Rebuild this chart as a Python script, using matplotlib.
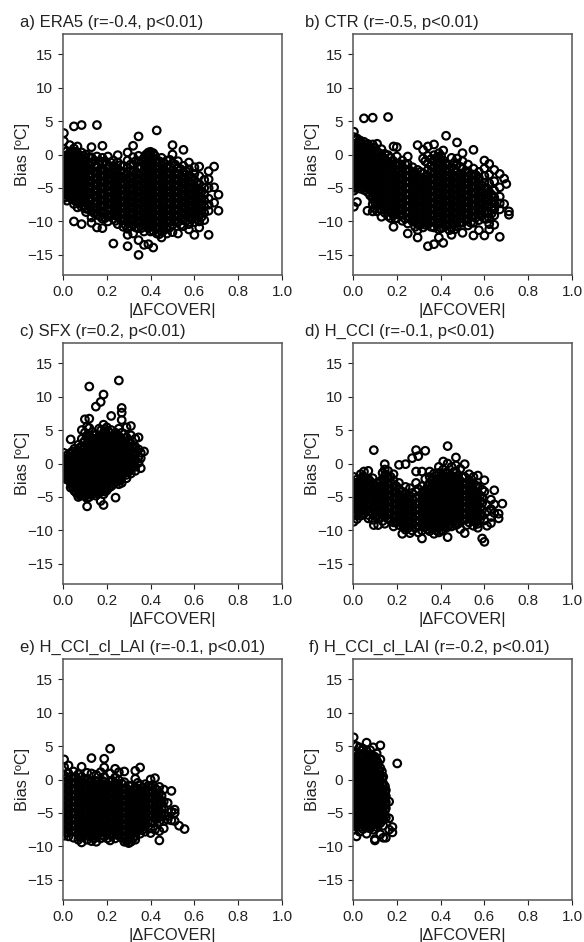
import numpy as np
import matplotlib
matplotlib.use("Agg")
import matplotlib.pyplot as plt

plt.rcParams['font.family'] = ['Liberation Sans', 'DejaVu Sans']

titles = ['a) ERA5 (r=-0.4, p<0.01)', 'b) CTR (r=-0.5, p<0.01)', 'c) SFX (r=0.2, p<0.01)',
          'd) H_CCI (r=-0.1, p<0.01)', 'e) H_CCI_cl_LAI (r=-0.1, p<0.01)', 'f) H_CCI_cl_LAI (r=-0.2, p<0.01)']
x_ticks = [0.0, 0.2, 0.4, 0.6, 0.8, 1.0]
y_ticks = [-15, -10, -5, 0, 5, 10, 15]

# values, column by column: (|dFCOVER|, [bias, ...])
era5_cols = [
    (0.004, [3.2, 2.0, 0.8, -0.2, -1.1, -2.0, -2.9, -3.8, -4.7, -5.6, -6.5]),
    (0.018, [0.5, -0.5, -1.5, -2.4, -3.4, -4.3, -5.2, -6.1, -6.9]),
    (0.031, [1.4, 0.3, -0.7, -1.7, -2.6, -3.5, -4.4, -5.3, -6.2]),
    (0.05, [4.2, 0.9, -0.1, -1.1, -2.0, -2.9, -3.9, -4.8, -5.7, -6.6, -7.4, -10.0]),
    (0.066, [1.2, 0.2, -0.8, -1.7, -2.5, -3.4, -4.3, -5.2, -6.1, -7.0, -7.9]),
    (0.085, [4.4, 0.3, -0.6, -1.5, -2.4, -3.3, -4.2, -5.1, -6.0, -6.9, -7.8, -10.4]),
    (0.105, [0.0, -0.9, -1.8, -2.7, -3.6, -4.5, -5.4, -6.3, -7.2, -8.1, -8.6]),
    (0.13, [1.1, -0.4, -1.3, -2.2, -3.1, -4.0, -4.9, -5.8, -6.7, -7.6, -8.4, -9.4, -10.2]),
    (0.155, [4.4, -0.3, -1.8, -2.7, -3.6, -4.5, -5.4, -6.3, -7.2, -8.1, -9.0, -10.9]),
    (0.18, [1.3, -0.5, -1.4, -2.3, -3.2, -4.1, -5.0, -5.9, -6.8, -7.7, -8.6, -9.6, -11.0]),
    (0.205, [-0.3, -1.9, -2.8, -3.7, -4.6, -5.5, -6.4, -7.3, -8.2, -9.1, -10.0]),
    (0.23, [-0.9, -1.7, -2.5, -3.3, -4.2, -5.1, -6.0, -6.9, -7.8, -8.7, -9.6, -13.3]),
    (0.25, [-0.1, -1.2, -2.1, -3.0, -3.9, -4.8, -5.7, -6.6, -7.5, -8.4, -9.3, -10.4]),
    (0.275, [-1.7, -2.6, -3.5, -4.4, -5.3, -6.2, -7.1, -8.0, -8.9, -9.8, -10.8]),
    (0.295, [0.3, -0.9, -2.0, -3.0, -3.9, -4.8, -5.7, -6.6, -7.5, -8.4, -9.3, -10.2, -11.1, -12.0, -13.7]),
    (0.32, [1.3, -0.4, -1.5, -2.4, -3.3, -4.2, -5.1, -6.0, -6.9, -7.8, -8.7, -9.6, -10.5, -11.8]),
    (0.345, [2.7, -0.2, -1.0, -2.0, -2.9, -3.8, -4.7, -5.6, -6.5, -7.4, -8.3, -9.2, -10.1, -11.0, -12.8, -15.0]),
    (0.37, [-0.5, -1.5, -2.4, -3.3, -4.2, -5.1, -6.0, -6.9, -7.8, -8.7, -9.6, -10.5, -11.5, -13.5]),
    (0.39, [0.3, -0.1, -1.0, -2.0, -2.9, -3.8, -4.7, -5.6, -6.5, -7.4, -8.3, -9.2, -10.1, -11.0, -13.4]),
    (0.412, [0.2, -0.6, -1.5, -2.4, -3.3, -4.2, -5.1, -6.0, -6.9, -7.8, -8.7, -9.6, -10.5, -11.4, -13.9]),
    (0.428, [3.6, -1.0, -2.0, -2.9, -3.8, -4.7, -5.6, -6.5, -7.4, -8.3, -9.2, -10.1, -11.0, -11.8]),
    (0.45, [-0.5, -1.5, -2.4, -3.3, -4.2, -5.1, -6.0, -6.9, -7.8, -8.7, -9.6, -10.5, -11.5, -12.4]),
    (0.475, [-0.9, -1.9, -2.8, -3.7, -4.6, -5.5, -6.4, -7.3, -8.2, -9.1, -10.0, -10.9, -11.8]),
    (0.5, [1.4, 0.0, -1.3, -2.4, -3.3, -4.2, -5.1, -6.0, -6.9, -7.8, -8.7, -9.6, -10.5, -11.6]),
    (0.525, [-1.0, -2.0, -2.9, -3.8, -4.7, -5.6, -6.5, -7.4, -8.3, -9.2, -10.1, -11.8]),
    (0.55, [0.7, -1.7, -2.6, -3.5, -4.4, -5.3, -6.2, -7.1, -8.0, -8.9, -9.8, -10.7]),
    (0.575, [-1.2, -2.2, -3.1, -4.0, -4.9, -5.8, -6.7, -7.6, -8.5, -9.4, -10.4, -11.2]),
    (0.6, [-1.9, -2.9, -3.8, -4.7, -5.6, -6.5, -7.4, -8.3, -9.2, -10.1, -12.0]),
    (0.622, [-1.8, -3.2, -4.4, -5.4, -6.4, -7.3, -8.2, -9.1, -10.0, -10.9]),
    (0.645, [-3.8, -5.0, -6.0, -6.9, -7.8, -8.7, -9.8]),
    (0.665, [-2.5, -3.7, -5.0, -6.6, -7.5, -8.4, -12.0]),
    (0.69, [-1.8, -4.9, -7.2]),
    (0.71, [-6.0, -8.4]),
    # dense middle of the cloud
    (0.011, [-0.7, -1.6, -2.4, -3.0, -3.9, -4.8, -5.7, -6.4]),
    (0.025, [-0.1, -1.0, -2.0, -2.9, -3.8, -4.7, -5.6]),
    (0.041, [0.4, -0.6, -1.4, -2.3, -3.2, -4.1, -5.0, -5.9, -6.7]),
    (0.058, [0.4, -0.5, -1.5, -2.4, -3.4, -4.3, -5.3, -6.2, -7.0]),
    (0.076, [-0.2, -1.2, -2.1, -3.0, -3.8, -4.7, -5.6, -6.5, -7.3]),
    (0.095, [-0.2, -1.1, -2.0, -2.9, -3.8, -4.7, -5.8, -6.6, -7.6]),
    (0.118, [-0.4, -1.4, -2.3, -3.2, -4.0, -5.0, -5.9, -6.8, -7.7, -8.2]),
    (0.143, [-0.9, -1.8, -2.6, -3.6, -4.5, -5.4, -6.2, -7.2, -8.0, -8.8]),
    (0.168, [-1.0, -2.3, -3.1, -4.0, -4.9, -5.9, -6.7, -7.6, -8.5, -9.2]),
    (0.192, [-1.0, -2.4, -3.2, -4.1, -5.0, -6.0, -6.9, -7.7, -8.7, -9.5]),
    (0.218, [-1.2, -3.0, -3.8, -4.7, -5.6, -6.5, -7.4, -8.3, -9.2]),
    (0.24, [-2.2, -3.6, -4.5, -5.4, -6.3, -7.2, -8.1, -9.0, -9.9]),
    (0.262, [-1.6, -2.5, -3.4, -4.3, -5.2, -6.1, -7.0, -7.9, -8.8, -9.7]),
    (0.285, [-3.1, -4.4, -5.2, -6.1, -7.0, -7.9, -8.8, -9.7, -10.5]),
    (0.308, [-1.5, -2.5, -3.4, -4.4, -5.3, -6.2, -7.0, -8.0, -8.9, -9.8, -10.7]),
    (0.332, [-1.0, -2.8, -3.8, -4.6, -5.6, -6.4, -7.3, -8.2, -9.2, -10.0, -10.9]),
    (0.358, [-1.0, -1.9, -2.8, -3.7, -4.6, -5.5, -6.4, -7.3, -8.2, -9.1, -10.0, -11.0]),
    (0.38, [0.0, -0.6, -1.5, -2.4, -3.4, -4.3, -5.2, -6.1, -7.0, -7.9, -8.8, -9.7, -10.6]),
    (0.4, [0.4, 0.0, -0.5, -1.5, -2.5, -3.3, -4.2, -5.2, -6.0, -7.0, -7.9, -8.8, -9.7, -10.6, -11.5]),
    (0.42, [-0.2, -1.0, -1.9, -2.8, -3.7, -4.6, -5.6, -6.4, -7.3, -8.2, -9.1, -10.0, -10.9]),
    (0.44, [-1.0, -1.9, -2.8, -3.7, -4.6, -5.5, -6.4, -7.4, -8.2, -9.1, -10.0, -10.9, -11.9]),
    (0.462, [-1.3, -2.2, -3.2, -4.1, -5.0, -5.9, -6.8, -7.7, -8.6, -9.5, -10.4, -11.3]),
    (0.488, [-0.8, -1.8, -2.8, -3.7, -4.6, -5.6, -6.4, -7.4, -8.2, -9.1, -10.0, -10.9]),
    (0.512, [-1.5, -2.8, -3.7, -4.6, -5.5, -6.4, -7.3, -8.2, -9.1, -10.0]),
    (0.538, [-2.2, -3.3, -4.2, -5.1, -6.0, -6.9, -7.8, -8.7, -9.6, -10.5]),
    (0.562, [-2.5, -3.6, -4.5, -5.4, -6.3, -7.2, -8.1, -9.0, -9.9]),
    (0.588, [-3.4, -4.3, -5.2, -6.1, -7.0, -7.9, -8.8, -9.7]),
    (0.61, [-4.2, -5.1, -6.0, -6.9, -7.8, -8.7, -9.6]),
    (0.633, [-5.5, -6.5, -7.4, -8.3, -9.3]),
]
ctr_cols = [
    (0.004, [3.4, 2.6, 1.6, 0.7, -0.2, -1.1, -2.0, -2.9, -3.8, -4.7, -5.4, -7.8]),
    (0.018, [2.4, 1.5, 0.6, -0.3, -1.2, -2.1, -3.0, -3.9, -4.8, -7.1]),
    (0.032, [2.1, 1.2, 0.3, -0.6, -1.5, -2.4, -3.3, -4.2, -5.1]),
    (0.05, [5.4, 1.9, 1.0, 0.1, -0.8, -1.7, -2.6, -3.5, -4.4, -5.3]),
    (0.066, [1.6, 0.7, -0.2, -1.1, -2.0, -2.9, -3.8, -4.7, -5.6, -8.4]),
    (0.09, [5.5, 1.5, 0.6, -0.3, -1.2, -2.1, -3.0, -3.9, -4.8, -5.7, -6.6, -7.4, -8.5]),
    (0.11, [1.6, 0.4, -0.5, -1.4, -2.3, -3.2, -4.1, -5.0, -5.9, -6.8, -7.7, -8.5]),
    (0.13, [0.8, -0.1, -1.0, -1.9, -2.8, -3.7, -4.6, -5.5, -6.4, -7.3, -8.2, -9.3]),
    (0.16, [5.6, -0.1, -1.1, -2.0, -2.9, -3.8, -4.7, -5.6, -6.5, -7.4, -8.3, -9.2]),
    (0.185, [1.2, -1.0, -1.9, -2.8, -3.7, -4.6, -5.5, -6.4, -7.3, -8.2, -9.1, -10.8]),
    (0.2, [1.1, -0.3, -1.4, -2.3, -3.2, -4.1, -5.0, -5.9, -6.8, -7.7, -8.6, -9.5]),
    (0.225, [-0.9, -1.8, -2.7, -3.6, -4.5, -5.4, -6.3, -7.2, -8.1, -9.0, -9.9]),
    (0.25, [-0.3, -1.4, -2.3, -3.2, -4.1, -5.0, -5.9, -6.8, -7.7, -8.6, -9.5, -10.3, -11.8]),
    (0.272, [-1.9, -2.8, -3.7, -4.6, -5.5, -6.4, -7.3, -8.2, -9.1, -10.0]),
    (0.295, [1.4, -2.3, -3.2, -4.1, -5.0, -5.9, -6.8, -7.7, -8.6, -9.5, -10.4, -11.3, -12.4]),
    (0.32, [0.7, -0.6, -2.8, -3.7, -4.6, -5.5, -6.4, -7.3, -8.2, -9.1, -10.0, -10.9]),
    (0.342, [1.2, -0.2, -1.3, -2.3, -3.2, -4.1, -5.0, -5.9, -6.8, -7.7, -8.6, -9.5, -10.4, -13.7]),
    (0.37, [1.5, -0.1, -1.0, -1.9, -2.8, -3.7, -4.6, -5.5, -6.4, -7.3, -8.2, -9.1, -10.0, -10.9, -13.4]),
    (0.392, [0.2, -0.5, -1.4, -2.3, -3.2, -4.1, -5.0, -5.9, -6.8, -7.7, -8.6, -9.5, -10.4, -11.2, -12.4]),
    (0.412, [0.6, -0.9, -1.9, -2.8, -3.7, -4.6, -5.5, -6.4, -7.3, -8.2, -9.1, -10.0, -10.9, -13.2]),
    (0.425, [2.8, -1.5, -2.5, -3.4, -4.3, -5.2, -6.1, -7.0, -7.9, -8.8, -9.7, -10.6]),
    (0.45, [-0.5, -1.9, -2.9, -3.8, -4.7, -5.6, -6.5, -7.4, -8.3, -9.2, -10.1, -11.0, -12.0]),
    (0.475, [1.8, -0.6, -1.5, -2.6, -3.5, -4.4, -5.3, -6.2, -7.1, -8.0, -8.9, -9.8, -10.7]),
    (0.5, [0.2, -1.0, -2.1, -3.0, -3.9, -4.8, -5.7, -6.6, -7.5, -8.4, -9.3, -10.2, -11.7]),
    (0.525, [-1.5, -2.5, -3.4, -4.3, -5.2, -6.1, -7.0, -7.9, -8.8, -9.7, -10.6]),
    (0.55, [0.7, -2.1, -3.0, -3.9, -4.8, -5.7, -6.6, -7.5, -8.4, -9.3, -10.2, -12.1]),
    (0.575, [-2.6, -3.5, -4.4, -5.3, -6.2, -7.1, -8.0, -8.9, -9.8, -11.3]),
    (0.6, [-0.9, -2.1, -3.2, -4.2, -5.1, -6.0, -6.9, -7.8, -8.7, -9.6, -12.1]),
    (0.622, [-1.4, -3.0, -4.3, -5.6, -6.6, -7.5, -8.6, -9.5, -10.4, -11.2]),
    (0.645, [-2.3, -4.0, -5.4, -6.4, -7.3, -8.2, -9.1, -10.5]),
    (0.67, [-2.9, -4.9, -6.3, -7.3, -8.2, -12.3]),
    (0.69, [-3.6, -7.4]),
    (0.7, [-4.4]),
    (0.712, [-8.5, -9.0]),
    # dense middle of the cloud
    (0.011, [2.1, 1.1, 0.2, -0.7, -1.6, -2.5, -3.4, -4.3, -5.0]),
    (0.025, [1.9, 1.0, 0.1, -0.8, -1.7, -2.6, -3.5, -4.4]),
    (0.041, [1.6, 0.7, -0.2, -1.1, -2.0, -2.9, -3.8, -4.7]),
    (0.058, [1.4, 0.5, -0.4, -1.3, -2.2, -3.1, -4.0, -4.9]),
    (0.078, [1.1, 0.2, -0.7, -1.6, -2.5, -3.4, -4.3, -5.2, -6.1]),
    (0.1, [1.0, 0.1, -0.8, -1.7, -2.6, -3.5, -4.4, -5.3, -6.2, -7.1, -8.0]),
    (0.12, [0.2, -0.9, -1.8, -2.7, -3.6, -4.5, -5.4, -6.3, -7.2, -8.1]),
    (0.145, [0.1, -0.6, -1.5, -2.4, -3.3, -4.2, -5.1, -6.0, -6.9, -7.8, -8.7]),
    (0.172, [-0.5, -1.4, -2.3, -3.2, -4.1, -5.0, -5.9, -6.8, -7.7, -8.6, -9.5]),
    (0.193, [-1.5, -2.4, -3.3, -4.2, -5.1, -6.0, -6.9, -7.8, -8.7, -9.6]),
    (0.212, [-1.4, -2.7, -3.6, -4.5, -5.4, -6.3, -7.2, -8.1, -9.0]),
    (0.238, [-1.4, -2.3, -3.2, -4.1, -5.0, -5.9, -6.8, -7.7, -8.6, -9.6]),
    (0.26, [-2.4, -3.3, -4.2, -5.1, -6.0, -6.9, -7.8, -8.7, -9.6]),
    (0.284, [-2.8, -3.7, -4.6, -5.5, -6.4, -7.3, -8.2, -9.1, -10.0, -10.8]),
    (0.308, [-2.6, -4.1, -5.0, -5.9, -6.8, -7.7, -8.6, -9.5, -10.4]),
    (0.33, [-1.0, -3.3, -4.2, -5.1, -6.0, -6.9, -7.8, -8.7, -9.6, -10.5]),
    (0.356, [-0.7, -1.7, -2.7, -3.6, -4.5, -5.4, -6.3, -7.2, -8.1, -9.0, -9.9, -10.8]),
    (0.381, [-0.5, -1.4, -2.3, -3.2, -4.1, -5.0, -5.9, -6.8, -7.7, -8.6, -9.5, -10.4]),
    (0.402, [-0.2, -1.1, -2.0, -2.9, -3.8, -4.7, -5.6, -6.5, -7.4, -8.3, -9.2, -10.1, -11.0]),
    (0.42, [-1.4, -2.3, -3.3, -4.2, -5.1, -6.0, -6.9, -7.8, -8.7, -9.6, -10.5]),
    (0.44, [-2.3, -3.3, -4.2, -5.1, -6.0, -6.9, -7.8, -8.7, -9.6, -10.5, -11.3]),
    (0.463, [-1.2, -2.1, -3.2, -4.1, -5.0, -5.9, -6.8, -7.7, -8.6, -9.5, -10.4, -11.2]),
    (0.488, [-1.8, -3.0, -3.9, -4.8, -5.7, -6.6, -7.5, -8.4, -9.3, -10.2]),
    (0.512, [-2.6, -3.5, -4.4, -5.3, -6.2, -7.1, -8.0, -8.9, -9.8]),
    (0.538, [-3.0, -3.9, -4.8, -5.7, -6.6, -7.5, -8.4, -9.3, -10.2]),
    (0.562, [-3.1, -4.0, -4.9, -5.8, -6.7, -7.6, -8.5, -9.4]),
    (0.588, [-4.6, -5.5, -6.4, -7.3, -8.2, -9.1]),
    (0.61, [-5.0, -6.0, -6.9, -7.8, -8.7, -9.6]),
    (0.633, [-6.0, -7.0, -7.9, -8.8]),
]
sfx_cols = [
    (0.003, [1.6, 0.6, -0.3, -1.2, -2.1]),
    (0.018, [1.2, 0.3, -0.6, -1.5, -2.4]),
    (0.035, [3.6, 1.6, 0.7, -0.2, -1.1, -2.0, -2.9, -3.6]),
    (0.052, [2.2, 1.3, 0.4, -0.5, -1.4, -2.3, -3.2, -4.1]),
    (0.07, [2.8, 1.9, 1.0, 0.1, -0.8, -1.7, -2.6, -3.5, -4.4, -5.0]),
    (0.086, [5.0, 3.7, 2.5, 1.6, 0.7, -0.2, -1.1, -2.0, -2.9, -3.8, -4.7]),
    (0.1, [6.6, 4.6, 3.4, 2.4, 1.4, 0.5, -0.4, -1.3, -2.2, -3.1, -4.0, -4.9]),
    (0.12, [11.5, 6.7, 5.3, 4.2, 3.2, 2.2, 1.2, 0.3, -0.6, -1.5, -2.4, -3.3, -4.2, -5.0]),
    (0.11, [-6.4, 5.5, -5.2]),
    (0.135, [4.7, 3.7, 2.7, 1.8, 0.9, 0.0, -0.9, -1.8, -2.7, -3.6, -4.5]),
    (0.15, [8.5, 4.3, 3.3, 2.3, 1.4, 0.5, -0.4, -1.3, -2.2, -3.1, -4.0, -4.8]),
    (0.165, [5.2, 4.0, 3.0, 2.0, 1.1, 0.2, -0.7, -1.6, -2.5, -3.4, -4.3]),
    (0.172, [9.2, -5.6]),
    (0.185, [10.3, 5.8, 4.6, 3.6, 2.6, 1.7, 0.8, -0.1, -1.0, -1.9, -2.8, -3.7, -4.6, -6.2]),
    (0.2, [5.4, 4.3, 3.3, 2.3, 1.4, 0.5, -0.4, -1.3, -2.2, -3.1, -4.0]),
    (0.22, [7.1, 5.0, 4.0, 3.0, 2.0, 1.1, 0.2, -0.7, -1.6, -2.5, -3.4]),
    (0.24, [4.6, 3.6, 2.6, 1.7, 0.8, -0.1, -1.0, -1.9, -2.8, -5.1]),
    (0.255, [12.4, 5.2, 4.1, 3.1, 2.2, 1.3, 0.4, -0.5, -1.4, -2.3, -3.1]),
    (0.268, [8.3, 7.6, 6.5, 4.6, 3.5, 2.5, 1.6, 0.7, -0.2, -1.1, -2.0, -2.9]),
    (0.29, [5.4, 3.9, 2.9, 1.9, 1.0, 0.1, -0.8, -1.7, -2.2]),
    (0.31, [5.6, 4.2, 3.0, 2.0, 1.1, 0.2, -0.7, -1.5]),
    (0.33, [3.7, 2.5, 1.5, 0.5, -0.5, -1.1]),
    (0.345, [3.9, 2.1, 1.0, 0.1]),
    (0.355, [1.6, 0.8, -0.7]),
    (0.37, [1.8]),
    # dense middle of the cloud
    (0.01, [0.8, -0.1, -1.0, -1.8]),
    (0.027, [0.8, -0.1, -1.0, -1.9]),
    (0.044, [1.8, 0.9, 0.0, -0.9, -1.8, -2.7, -3.5]),
    (0.061, [1.7, 0.8, -0.1, -1.0, -1.9, -2.8, -3.7, -4.4]),
    (0.078, [2.4, 1.5, 0.6, -0.3, -1.2, -2.1, -3.0, -3.9, -4.8]),
    (0.093, [3.1, 2.1, 1.1, 0.2, -0.7, -1.6, -2.5, -3.4, -4.3]),
    (0.11, [3.9, 2.9, 1.9, 0.9, 0.0, -0.9, -1.8, -2.7, -3.6, -4.5]),
    (0.127, [3.7, 2.7, 1.7, 0.8, -0.1, -1.0, -1.9, -2.8, -3.7, -4.6]),
    (0.143, [4.2, 3.2, 2.2, 1.3, 0.4, -0.5, -1.4, -2.3, -3.2, -4.1]),
    (0.158, [3.8, 2.8, 1.8, 0.9, 0.0, -0.9, -1.8, -2.7, -3.6, -4.5]),
    (0.175, [5.0, 4.1, 3.1, 2.1, 1.2, 0.3, -0.6, -1.5, -2.4, -3.3, -4.2]),
    (0.192, [5.1, 4.1, 3.1, 2.1, 1.2, 0.3, -0.6, -1.5, -2.4, -3.3, -4.2]),
    (0.21, [4.7, 3.7, 2.7, 1.8, 0.9, 0.0, -0.9, -1.8, -2.7, -3.6]),
    (0.23, [4.2, 3.2, 2.2, 1.3, 0.4, -0.5, -1.4, -2.3, -3.1]),
    (0.247, [4.3, 3.3, 2.3, 1.4, 0.5, -0.4, -1.3, -2.2]),
    (0.262, [3.7, 2.7, 1.8, 0.9, 0.0, -0.9, -1.8, -2.5]),
    (0.28, [4.4, 3.3, 2.3, 1.3, 0.4, -0.5, -1.4]),
    (0.3, [3.4, 2.4, 1.5, 0.6, -0.3, -1.2]),
    (0.32, [2.4, 1.5, 0.6, -0.3]),
]
hcci_cols = [
    (0.003, [-2.0, -2.9, -3.8, -4.7, -5.6, -6.5, -7.4, -8.7]),
    (0.018, [-2.4, -3.3, -4.2, -5.1, -6.0, -6.9, -7.8, -8.3]),
    (0.035, [-1.6, -2.5, -3.4, -4.3, -5.2, -6.1, -7.0, -7.8]),
    (0.05, [-1.2, -2.1, -3.0, -3.9, -4.8, -5.7, -6.6, -7.5]),
    (0.07, [-1.1, -2.3, -3.2, -4.1, -5.0, -5.9, -6.8, -7.7, -8.2]),
    (0.09, [-2.2, -3.0, -3.9, -4.8, -5.7, -6.6, -7.5, -8.4]),
    (0.095, [2.0, -9.2]),
    (0.115, [-2.8, -3.7, -4.6, -5.5, -6.4, -7.3, -8.2, -9.2]),
    (0.135, [-1.4, -2.3, -3.2, -4.1, -5.0, -5.9, -6.8, -7.7, -8.6]),
    (0.145, [-0.1, -0.9, -9.0]),
    (0.16, [-1.1, -2.0, -2.9, -3.8, -4.7, -5.6, -6.5, -7.4, -8.3]),
    (0.185, [-1.6, -2.5, -3.4, -4.3, -5.2, -6.1, -7.0, -7.9, -8.8, -9.4]),
    (0.21, [-0.2, -2.9, -3.8, -4.7, -5.6, -6.5, -7.4, -8.3, -9.2]),
    (0.225, [-4.2, -5.2, -6.1, -7.0, -7.9, -8.8, -10.5]),
    (0.24, [-0.1, -3.5, -4.6, -5.5, -6.4, -7.3, -8.2, -9.1, -9.9]),
    (0.26, [-3.7, -5.0, -5.9, -6.8, -7.7, -8.6, -9.5, -10.4]),
    (0.27, [0.8, -4.4, -10.0]),
    (0.288, [2.0, -1.2, -2.9, -4.2, -5.1, -6.0, -6.9, -7.8, -8.7, -9.6]),
    (0.298, [1.1, -3.8, -10.3]),
    (0.315, [-1.2, -3.4, -4.6, -5.5, -6.4, -7.3, -8.2, -9.1, -10.0, -11.2]),
    (0.33, [1.9, -2.3, -4.1, -5.0, -5.9, -6.8, -7.7, -8.6, -9.5]),
    (0.35, [-1.2, -2.0, -2.9, -3.8, -4.7, -5.6, -6.5, -7.4, -8.3, -9.2, -10.1]),
    (0.37, [-1.5, -2.4, -3.3, -4.2, -5.1, -6.0, -6.9, -7.8, -8.7, -9.6, -10.5]),
    (0.392, [-0.5, -1.4, -2.3, -3.2, -4.1, -5.0, -5.9, -6.8, -7.7, -8.6, -9.5, -10.3]),
    (0.412, [0.3, -0.9, -1.9, -2.8, -3.7, -4.6, -5.5, -6.4, -7.3, -8.2, -9.1, -10.0]),
    (0.432, [2.6, 0.0, -1.4, -2.3, -3.2, -4.1, -5.0, -5.9, -6.8, -7.7, -8.6, -9.5, -11.0]),
    (0.45, [-0.5, -1.8, -2.7, -3.6, -4.5, -5.4, -6.3, -7.2, -8.1, -9.4]),
    (0.47, [0.9, -0.3, -1.3, -2.2, -3.1, -4.0, -4.9, -5.8, -6.7, -7.6, -8.6, -9.2]),
    (0.49, [-0.8, -2.6, -3.5, -4.4, -5.3, -6.2, -7.1, -8.0, -9.8]),
    (0.51, [-0.1, -2.0, -3.0, -3.9, -4.8, -5.7, -6.6, -7.5, -8.4, -10.4]),
    (0.53, [-1.6, -2.5, -3.4, -4.3, -5.2, -6.1, -7.0, -7.9, -8.8]),
    (0.55, [-2.0, -3.0, -3.9, -4.8, -5.7, -6.6, -7.5, -8.4, -9.3]),
    (0.57, [-1.8, -3.4, -4.4, -5.3, -6.2, -7.1, -8.0, -9.0, -9.6]),
    (0.59, [-3.9, -5.0, -5.9, -6.9, -7.8, -11.2]),
    (0.6, [-2.5, -4.2, -8.5, -11.7]),
    (0.612, [-6.2, -7.2, -9.3]),
    (0.63, [-5.4, -6.8, -8.0, -8.9]),
    (0.645, [-4.0, -6.1, -7.4]),
    (0.665, [-7.5, -8.2]),
    (0.682, [-6.0]),
    # dense middle of the cloud
    (0.011, [-2.9, -3.8, -4.7, -5.6, -6.5, -7.4]),
    (0.027, [-2.9, -3.8, -4.7, -5.6, -6.5, -7.4]),
    (0.043, [-2.0, -2.9, -3.8, -4.7, -5.6, -6.5]),
    (0.06, [-2.6, -3.5, -4.4, -5.3, -6.2, -7.1]),
    (0.08, [-2.7, -3.6, -4.5, -5.4, -6.3, -7.2]),
    (0.103, [-3.3, -4.2, -5.1, -6.0, -6.9, -7.8]),
    (0.125, [-2.7, -3.6, -4.5, -5.4, -6.3, -7.2, -8.1]),
    (0.148, [-1.6, -2.5, -3.4, -4.3, -5.2, -6.1, -7.0, -7.9]),
    (0.172, [-2.0, -2.9, -3.8, -4.7, -5.6, -6.5, -7.4, -8.3]),
    (0.198, [-3.4, -4.3, -5.2, -6.1, -7.0, -7.9, -8.8]),
    (0.232, [-5.0, -5.9, -6.8, -7.7, -8.6, -9.5]),
    (0.25, [-5.1, -6.0, -6.9, -7.8, -8.7, -9.6]),
    (0.275, [-5.5, -6.4, -7.3, -8.2, -9.1]),
    (0.302, [-4.9, -5.8, -6.7, -7.6, -8.5, -9.4]),
    (0.322, [-4.1, -5.0, -5.9, -6.8, -7.7, -8.6, -9.5]),
    (0.341, [-3.4, -4.4, -5.3, -6.2, -7.1, -8.0, -8.9, -9.8]),
    (0.36, [-2.5, -3.4, -4.3, -5.2, -6.1, -7.0, -7.9, -8.8, -9.7]),
    (0.381, [-1.9, -2.8, -3.7, -4.6, -5.5, -6.4, -7.3, -8.2, -9.1, -10.0]),
    (0.402, [-1.9, -2.8, -3.7, -4.6, -5.5, -6.4, -7.3, -8.2, -9.1, -10.0]),
    (0.422, [-1.4, -2.3, -3.2, -4.1, -5.0, -5.9, -6.8, -7.7, -8.6, -9.5]),
    (0.442, [-1.9, -2.8, -3.7, -4.6, -5.5, -6.4, -7.3, -8.2, -9.1]),
    (0.46, [-1.3, -2.2, -3.1, -4.0, -4.9, -5.8, -6.7, -7.6, -8.5]),
    (0.48, [-1.8, -2.7, -3.6, -4.5, -5.4, -6.3, -7.2, -8.1, -9.0]),
    (0.5, [-2.1, -3.0, -3.9, -4.8, -5.7, -6.6, -7.5, -8.4]),
    (0.52, [-2.9, -3.8, -4.7, -5.6, -6.5, -7.4, -8.3, -9.2]),
    (0.54, [-2.9, -3.8, -4.7, -5.6, -6.5, -7.4, -8.3]),
    (0.56, [-3.4, -4.3, -5.2, -6.1, -7.0, -7.9, -8.8]),
    (0.58, [-4.8, -5.7, -6.6, -7.5, -8.4]),
]
hcci_lai_e_cols = [
    (0.005, [3.0, 1.9, 0.6, -0.3, -1.2, -2.1, -3.0, -3.9, -4.8, -5.7, -6.6, -7.5, -8.4]),
    (0.025, [2.1, 0.9, 0.0, -0.9, -1.8, -2.7, -3.6, -4.5, -5.4, -6.3, -7.2, -8.5]),
    (0.048, [1.2, 0.3, -0.6, -1.5, -2.4, -3.3, -4.2, -5.1, -6.0, -6.9, -7.8, -8.7]),
    (0.07, [0.8, -0.1, -1.0, -1.9, -2.8, -3.7, -4.6, -5.5, -6.4, -7.3, -8.2, -9.0]),
    (0.085, [1.9, 0.4, -0.5, -1.4, -2.3, -3.2, -4.1, -5.0, -5.9, -6.8, -7.7, -8.6, -9.4]),
    (0.11, [1.0, 0.1, -0.8, -1.7, -2.6, -3.5, -4.4, -5.3, -6.2, -7.1, -8.0, -9.0]),
    (0.13, [3.2, 0.9, -0.3, -1.2, -2.1, -3.0, -3.9, -4.8, -5.7, -6.6, -7.5, -8.4, -9.2]),
    (0.152, [0.7, -0.2, -1.1, -2.0, -2.9, -3.8, -4.7, -5.6, -6.5, -7.4, -8.3, -9.3]),
    (0.172, [1.1, -0.7, -1.6, -2.5, -3.4, -4.3, -5.2, -6.1, -7.0, -7.9, -8.8]),
    (0.188, [3.1, 1.8, 0.4, -0.4, -1.3, -2.2, -3.1, -4.0, -4.9, -5.8, -6.7, -7.6, -8.5]),
    (0.215, [4.6, 0.9, -0.2, -1.1, -2.0, -2.9, -3.8, -4.7, -5.6, -6.5, -7.4, -8.3, -9.1]),
    (0.238, [1.6, 0.3, -0.6, -1.5, -2.4, -3.3, -4.2, -5.1, -6.0, -6.9, -7.8, -8.8]),
    (0.255, [1.1, -0.1, -1.0, -1.9, -2.8, -3.7, -4.6, -5.5, -6.4, -7.3, -8.2]),
    (0.28, [1.2, -0.4, -1.3, -2.2, -3.1, -4.0, -4.9, -5.8, -6.7, -7.6, -8.5, -9.3]),
    (0.3, [-0.9, -1.8, -2.7, -3.6, -4.5, -5.4, -6.3, -7.2, -8.1, -9.0, -9.5]),
    (0.33, [1.3, 0.1, -1.2, -2.1, -3.0, -3.9, -4.8, -5.7, -6.6, -7.5, -8.4, -9.0]),
    (0.352, [1.8, -0.9, -1.8, -2.7, -3.6, -4.5, -5.4, -6.3, -7.2, -8.1]),
    (0.375, [-0.7, -1.6, -2.5, -3.4, -4.3, -5.2, -6.1, -7.0, -7.8]),
    (0.4, [0.0, -1.0, -1.9, -2.8, -3.7, -4.6, -5.5, -6.4, -7.3, -8.0]),
    (0.42, [0.2, -1.3, -2.2, -3.1, -4.0, -4.9, -5.8, -7.5]),
    (0.44, [-1.1, -2.0, -2.9, -3.8, -4.7, -5.6, -6.3, -7.7, -9.1]),
    (0.46, [-1.5, -3.3, -4.3, -5.2, -6.2, -7.3]),
    (0.478, [-3.5, -5.5, -6.0]),
    (0.495, [-1.7, -4.8, -6.1]),
    (0.51, [-4.5, -5.0, -6.2]),
    (0.53, [-6.9]),
    (0.555, [-7.4]),
    # dense middle of the cloud
    (0.015, [0.2, -0.7, -1.6, -2.5, -3.4, -4.3, -5.2, -6.1, -7.0, -7.9]),
    (0.036, [0.4, -0.5, -1.4, -2.3, -3.2, -4.1, -5.0, -5.9, -6.8, -7.7]),
    (0.059, [0.3, -0.6, -1.5, -2.4, -3.3, -4.2, -5.1, -6.0, -6.9, -7.8]),
    (0.078, [-0.5, -1.4, -2.3, -3.2, -4.1, -5.0, -5.9, -6.8, -7.7, -8.6]),
    (0.098, [0.0, -0.9, -1.8, -2.7, -3.6, -4.5, -5.4, -6.3, -7.2, -8.1]),
    (0.12, [-0.4, -1.3, -2.2, -3.1, -4.0, -4.9, -5.8, -6.7, -7.6, -8.5]),
    (0.142, [-0.7, -1.6, -2.5, -3.4, -4.3, -5.2, -6.1, -7.0, -7.9, -8.8]),
    (0.162, [-0.7, -1.6, -2.5, -3.4, -4.3, -5.2, -6.1, -7.0, -7.9]),
    (0.18, [-0.2, -1.1, -2.0, -2.9, -3.8, -4.7, -5.6, -6.5, -7.4, -8.3]),
    (0.202, [-0.7, -1.6, -2.5, -3.4, -4.3, -5.2, -6.1, -7.0, -7.9, -8.8]),
    (0.226, [-0.2, -1.1, -2.0, -2.9, -3.8, -4.7, -5.6, -6.5, -7.4, -8.3]),
    (0.247, [-1.1, -2.0, -2.9, -3.8, -4.7, -5.6, -6.5, -7.4, -8.3]),
    (0.268, [-0.6, -1.5, -2.4, -3.3, -4.2, -5.1, -6.0, -6.9, -7.8, -8.7]),
    (0.29, [-1.3, -2.2, -3.1, -4.0, -4.9, -5.8, -6.7, -7.6, -8.5, -9.2]),
    (0.31, [-1.0, -2.2, -3.1, -4.0, -4.9, -5.8, -6.7, -7.6, -8.5, -9.3]),
    (0.32, [-1.6, -2.5, -3.4, -4.3, -5.2, -6.1, -7.0, -7.9, -8.8]),
    (0.341, [-0.5, -1.4, -2.3, -3.2, -4.1, -5.0, -5.9, -6.8, -7.7]),
    (0.363, [-1.2, -2.1, -3.0, -3.9, -4.8, -5.7, -6.6, -7.5]),
    (0.387, [-1.0, -1.9, -2.8, -3.7, -4.6, -5.5, -6.4]),
    (0.41, [-0.8, -1.7, -2.6, -3.5, -4.4, -5.3, -6.2]),
    (0.43, [-1.6, -2.5, -3.4, -4.3, -5.2, -5.9]),
    (0.45, [-2.4, -3.5, -4.4, -5.3]),
]
hcci_lai_f_cols = [
    (0.003, [6.3, 5.2, 4.2, 3.3, 2.4, 1.5, 0.6, -0.3, -1.2, -2.1, -3.0, -3.9, -4.8, -5.7, -6.6, -7.5]),
    (0.016, [5.0, 4.0, 3.1, 2.2, 1.3, 0.4, -0.5, -1.4, -2.3, -3.2, -4.1, -5.0, -5.9, -6.8, -8.5]),
    (0.03, [4.8, 3.8, 2.8, 1.9, 1.0, 0.1, -0.8, -1.7, -2.6, -3.5, -4.4, -5.3, -6.2, -7.1, -7.8]),
    (0.046, [4.6, 3.5, 2.5, 1.6, 0.7, -0.2, -1.1, -2.0, -2.9, -3.8, -4.7, -5.6, -6.5, -7.4]),
    (0.062, [5.5, 4.3, 3.2, 2.2, 1.3, 0.4, -0.5, -1.4, -2.3, -3.2, -4.1, -5.0, -5.9, -6.8, -8.1]),
    (0.078, [4.4, 3.6, 2.6, 1.7, 0.8, -0.1, -1.0, -1.9, -2.8, -3.7, -4.6, -5.5, -6.4, -7.3]),
    (0.092, [4.8, 3.3, 2.3, 1.4, 0.5, -0.4, -1.3, -2.2, -3.1, -4.0, -4.9, -5.8, -6.7, -7.5]),
    (0.1, [-8.9, -9.1]),
    (0.108, [3.9, 2.9, 1.9, 1.0, 0.1, -0.8, -1.7, -2.6, -3.5, -4.4, -5.3, -6.2, -7.1]),
    (0.125, [5.1, 3.0, 1.7, 0.7, -0.2, -1.1, -2.0, -2.9, -3.8, -4.7, -5.6, -6.5, -8.2]),
    (0.138, [0.4, -0.6, -1.5, -2.4, -3.3, -4.2, -5.1, -6.0, -6.9, -8.7]),
    (0.15, [-1.6, -2.5, -3.4, -4.3, -5.7, -8.7]),
    (0.165, [-3.3, -5.8, -7.5]),
    (0.18, [-7.1, -7.9]),
    (0.202, [2.4]),
    # dense middle of the cloud
    (0.009, [3.8, 2.9, 2.0, 1.1, 0.2, -0.7, -1.6, -2.5, -3.4, -4.3, -5.2, -6.1, -7.0]),
    (0.023, [3.6, 2.7, 1.7, 0.8, -0.1, -1.0, -1.9, -2.8, -3.7, -4.6, -5.5, -6.4]),
    (0.038, [4.3, 3.3, 2.3, 1.4, 0.5, -0.4, -1.3, -2.2, -3.1, -4.0, -4.9, -5.8, -6.7]),
    (0.054, [4.0, 3.0, 2.0, 1.1, 0.2, -0.7, -1.6, -2.5, -3.4, -4.3, -5.2, -6.1, -7.0]),
    (0.07, [3.7, 2.7, 1.8, 0.9, 0.0, -0.9, -1.8, -2.7, -3.6, -4.5, -5.4, -6.3, -7.2]),
    (0.085, [3.1, 2.1, 1.2, 0.3, -0.6, -1.5, -2.4, -3.3, -4.2, -5.1, -6.0, -6.9]),
    (0.1, [3.4, 2.4, 1.5, 0.6, -0.3, -1.2, -2.1, -3.0, -3.9, -4.8, -5.7, -6.6]),
    (0.116, [2.4, 1.4, 0.5, -0.4, -1.3, -2.2, -3.1, -4.0, -4.9, -5.8, -6.7]),
    (0.132, [1.2, 0.2, -0.7, -1.6, -2.5, -3.4, -4.3, -5.2, -6.1]),
    (0.146, [-1.0, -1.9, -2.8, -3.7, -4.6, -5.3]),
]


def expand(cols):
    xs = []
    ys = []
    for x, bias in cols:
        xs.extend([x] * len(bias))
        ys.extend(bias)
    return np.array(xs), np.array(ys)


panels = [era5_cols, ctr_cols, sfx_cols, hcci_cols, hcci_lai_e_cols, hcci_lai_f_cols]
lefts = [63, 353, 63, 353, 63, 353]
tops = [34, 34, 343, 343, 659, 659]
title_offsets = [43, 48, 43, 48, 43, 44]
W, H = 584, 942

fig = plt.figure(figsize=(W / 100, H / 100), dpi=100)
for i, cols in enumerate(panels):
    ax = fig.add_axes([lefts[i] / W, 1 - (tops[i] + 241) / H, 219 / W, 241 / H])
    xs, ys = expand(cols)
    ax.scatter(xs, ys, s=30, facecolors='none', edgecolors='black', linewidths=1.55)
    ax.set_xlim(0, 1)
    ax.set_ylim(-18, 18)
    ax.set_xticks(x_ticks)
    ax.set_yticks(y_ticks)
    ax.tick_params(labelsize=11, colors='#222222')
    ax.set_xlabel('|\u0394FCOVER|', fontsize=11.7, color='#222222', labelpad=3)
    ax.set_ylabel('Bias [\u00baC]', fontsize=11.7, color='#222222', labelpad=-2)
    for sp in ax.spines.values():
        sp.set_color('#555555')
        sp.set_linewidth(1.1)
    ax.text(-title_offsets[i] / 219, 1.018, titles[i], transform=ax.transAxes, ha='left', va='bottom',
            fontsize=12, color='#222222')

fig.savefig('out.png', dpi=100)
